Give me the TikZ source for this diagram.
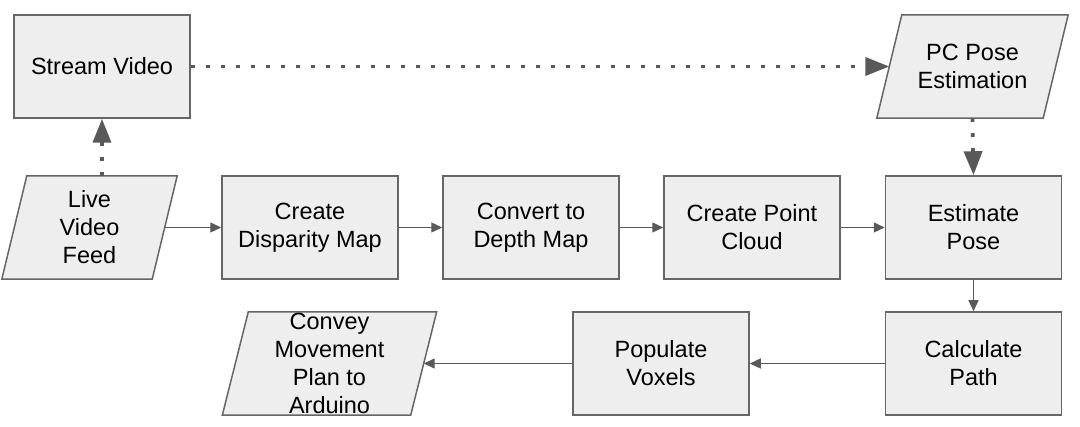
\documentclass[tikz,border=0pt]{standalone}
\usepackage{fontspec}
\setmainfont{Liberation Sans}
\usetikzlibrary{arrows.meta}
\definecolor{boxfill}{HTML}{EEEEEE}
\definecolor{boxline}{HTML}{666666}
\definecolor{arrowcol}{HTML}{595959}
\begin{document}
\begin{tikzpicture}[x=1pt,y=-1pt,
  every node/.style={font=\fontsize{23.5}{28}\selectfont, align=center, text=black},
  procbox/.style={draw=boxline, fill=boxfill, line width=1.5pt, minimum width=176pt, minimum height=103pt, inner sep=0pt},
  iocore/.style={inner sep=0pt, minimum height=103pt},
  ioshape/.style={draw=boxline, fill=boxfill, line width=1.5pt, line join=miter},
  solidarrow/.style={draw=arrowcol, line width=1.3pt, -{Triangle[length=11pt,width=10pt]}},
  dotarrow/.style={draw=arrowcol, line width=3.8pt, dash pattern=on 3.8pt off 11.2pt, -{Triangle[length=24pt,width=18pt]}}
]
\useasboundingbox (0,0) rectangle (1080,427);
% input/output parallelograms (core nodes give the body; outline drawn with slant)
\node[iocore, minimum width=166pt] (pcpose) at (972.5,66.5) {};
\draw[ioshape] ([xshift=12.5pt]pcpose.north west) -- ([xshift=12.5pt]pcpose.north east) -- ([xshift=-12.5pt]pcpose.south east) -- ([xshift=-12.5pt]pcpose.south west) -- cycle;
\node at (pcpose.center) {PC Pose\\Estimation};

\node[iocore, minimum width=150pt] (live) at (89.5,227.5) {};
\draw[ioshape] ([xshift=12.5pt]live.north west) -- ([xshift=12.5pt]live.north east) -- ([xshift=-12.5pt]live.south east) -- ([xshift=-12.5pt]live.south west) -- cycle;
\node at (live.center) {Live\\Video\\Feed};

\node[iocore, minimum width=188pt] (conv) at (329.5,363.5) {};
\draw[ioshape] ([xshift=13pt]conv.north west) -- ([xshift=13pt]conv.north east) -- ([xshift=-13pt]conv.south east) -- ([xshift=-13pt]conv.south west) -- cycle;
\node at (conv.center) {Convey\\Movement\\Plan to\\Arduino};

\node[procbox] (stream) at (102,66.5) {Stream Video};
\node[procbox] (disp) at (310,227.5) {Create\\Disparity Map};
\node[procbox] (depth) at (531,227.5) {Convert to\\Depth Map};
\node[procbox] (cloud) at (752,227.5) {Create Point\\Cloud};
\node[procbox] (est) at (973.5,227.5) {Estimate\\Pose};
\node[procbox] (calc) at (973.5,363.5) {Calculate\\Path};
\node[procbox] (pop) at (661,363.5) {Populate\\Voxels};

\draw[dotarrow] (stream.south |- live.north) -- (stream.south);
\draw[dotarrow] (stream.east) -- (pcpose.west);
\draw[dotarrow] (pcpose.south) -- (est.north);
\draw[solidarrow] (live.east) -- (disp.west);
\draw[solidarrow] (disp.east) -- (depth.west);
\draw[solidarrow] (depth.east) -- (cloud.west);
\draw[solidarrow] (cloud.east) -- (est.west);
\draw[solidarrow] (est.south) -- (calc.north);
\draw[solidarrow] (calc.west) -- (pop.east);
\draw[solidarrow] (pop.west) -- (conv.east);
\end{tikzpicture}
\end{document}
